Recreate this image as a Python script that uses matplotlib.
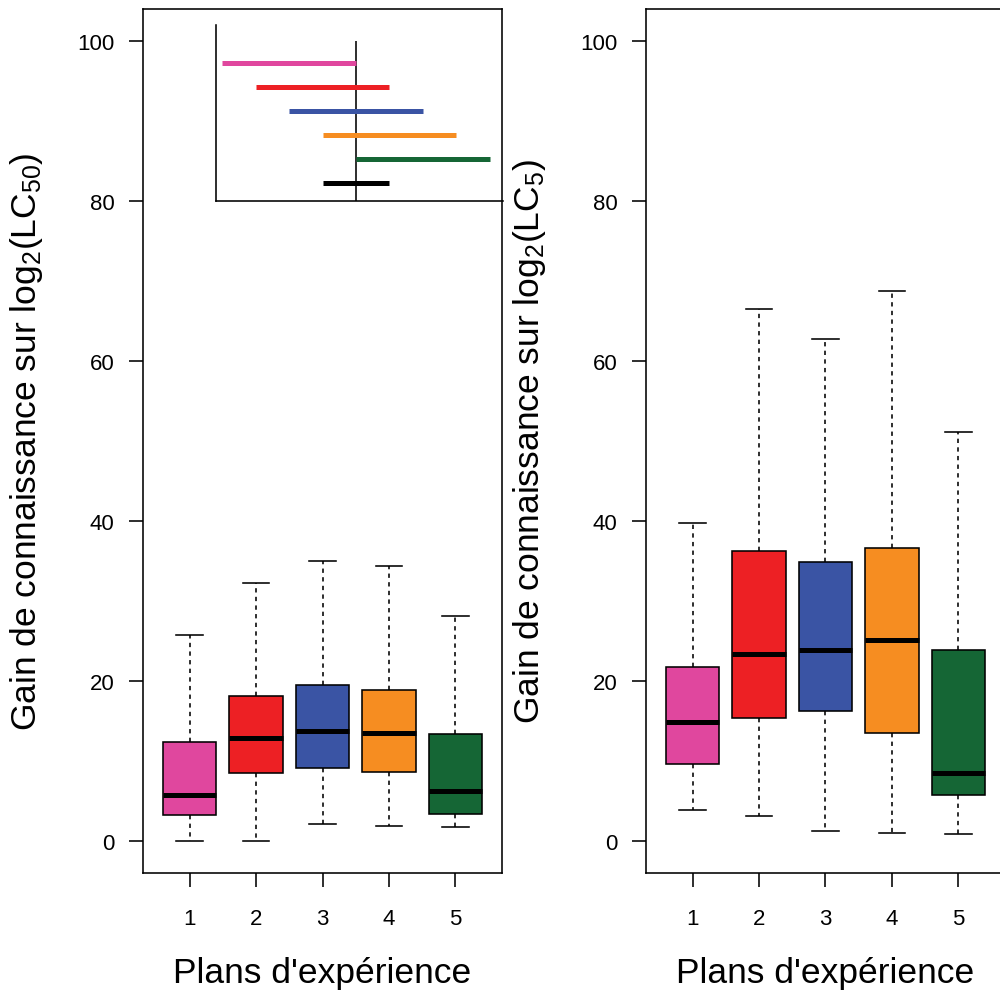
import matplotlib
matplotlib.use("Agg")
import matplotlib.pyplot as plt

plt.rcParams['font.family'] = ['Liberation Sans', 'DejaVu Sans']
plt.rcParams['mathtext.fontset'] = 'custom'
plt.rcParams['mathtext.rm'] = 'Liberation Sans'
plt.rcParams['mathtext.default'] = 'regular'

# designs 1..5
plans = [1, 2, 3, 4, 5]
colors = ["#E0479E", "#ED2024", "#3A54A4", "#F68D21", "#156635"]

# LC50 panel
lc50_whislo = [0.0, 0.0, 2.1, 1.9, 1.7]
lc50_q1 = [3.25, 8.5, 9.1, 8.6, 3.4]
lc50_med = [5.8, 12.9, 13.8, 13.55, 6.2]
lc50_q3 = [12.4, 18.1, 19.5, 18.9, 13.4]
lc50_whishi = [25.8, 32.3, 35.0, 34.4, 28.1]

# LC5 panel
lc5_whislo = [3.9, 3.1, 1.25, 1.05, 0.9]
lc5_q1 = [9.6, 15.4, 16.3, 13.5, 5.7]
lc5_med = [14.9, 23.4, 23.9, 25.1, 8.55]
lc5_q3 = [21.8, 36.2, 34.9, 36.6, 23.9]
lc5_whishi = [39.8, 66.5, 62.8, 68.8, 51.1]

# inset schematic: segment start / end per design + reference (black)
inset_rows = [6, 5, 4, 3, 2, 1]
inset_start = [-4, -3, -2, -1, 0, -1]
inset_end = [0, 1, 2, 3, 4, 1]
inset_colors = colors + ["black"]

W, H = 1000, 995
LW = 1.15
fig = plt.figure(figsize=(10, 9.95), dpi=100)


def px_axes(x0, y0, x1, y1):
    return fig.add_axes([x0 / W, (H - y1) / H, (x1 - x0) / W, (y1 - y0) / H])


def make_stats(lo, q1, med, q3, hi):
    return [dict(whislo=a, q1=b, med=c, q3=d, whishi=e, fliers=[])
            for a, b, c, d, e in zip(lo, q1, med, q3, hi)]


def draw_panel(ax, stats, ylab):
    bp = ax.bxp(stats, positions=plans, widths=0.8, capwidths=0.4,
                patch_artist=True, showfliers=False,
                boxprops=dict(edgecolor="black", linewidth=LW),
                medianprops=dict(color="black", linewidth=3.6, solid_capstyle="butt"),
                whiskerprops=dict(color="black", linewidth=LW, linestyle=(0, (2.7, 2.7))),
                capprops=dict(color="black", linewidth=LW))
    for patch, c in zip(bp["boxes"], colors):
        patch.set_facecolor(c)
    ax.set_xlim(0.3, 5.7)
    ax.set_ylim(-4, 104)
    ax.set_yticks([0, 20, 40, 60, 80, 100])
    ax.set_xticks(plans)
    ax.set_xticklabels([str(p) for p in plans])
    ax.tick_params(axis="both", length=10, width=LW, labelsize=16)
    ax.tick_params(axis="x", pad=15)
    ax.tick_params(axis="y", pad=10.5)
    for s in ax.spines.values():
        s.set_linewidth(LW)
    ax.set_xlabel("Plans d'expérience", fontsize=25.5, va="baseline")
    ax.xaxis.set_label_coords(0.5, -0.126)
    ax.set_ylabel(ylab, fontsize=25.5, va="baseline")
    ax.yaxis.set_label_coords(-0.298, 0.5)


ax1 = px_axes(143, 10, 502, 874)
draw_panel(ax1, make_stats(lc50_whislo, lc50_q1, lc50_med, lc50_q3, lc50_whishi),
           r"Gain de connaissance sur log$_{2}$(LC$_{50}$)")

ax2 = px_axes(646, 10, 1005, 874)
draw_panel(ax2, make_stats(lc5_whislo, lc5_q1, lc5_med, lc5_q3, lc5_whishi),
           r"Gain de connaissance sur log$_{2}$(LC$_{5}$)")

# inset in the left panel
axi = px_axes(216.3, 26, 502.7, 201.7)
axi.patch.set_alpha(0)
axi.set_xlim(-4.18, 4.39)
axi.set_ylim(0.277, 7.58)
axi.set_xticks([])
axi.set_yticks([])
axi.spines["top"].set_visible(False)
axi.spines["right"].set_visible(False)
axi.spines["left"].set_linewidth(LW)
axi.spines["bottom"].set_linewidth(LW)
axi.vlines(0, 0.277, 6.9, color="black", linewidth=LW)
axi.hlines(inset_rows, inset_start, inset_end, colors=inset_colors, linewidth=3.6)

fig.savefig("out.png", dpi=100)
